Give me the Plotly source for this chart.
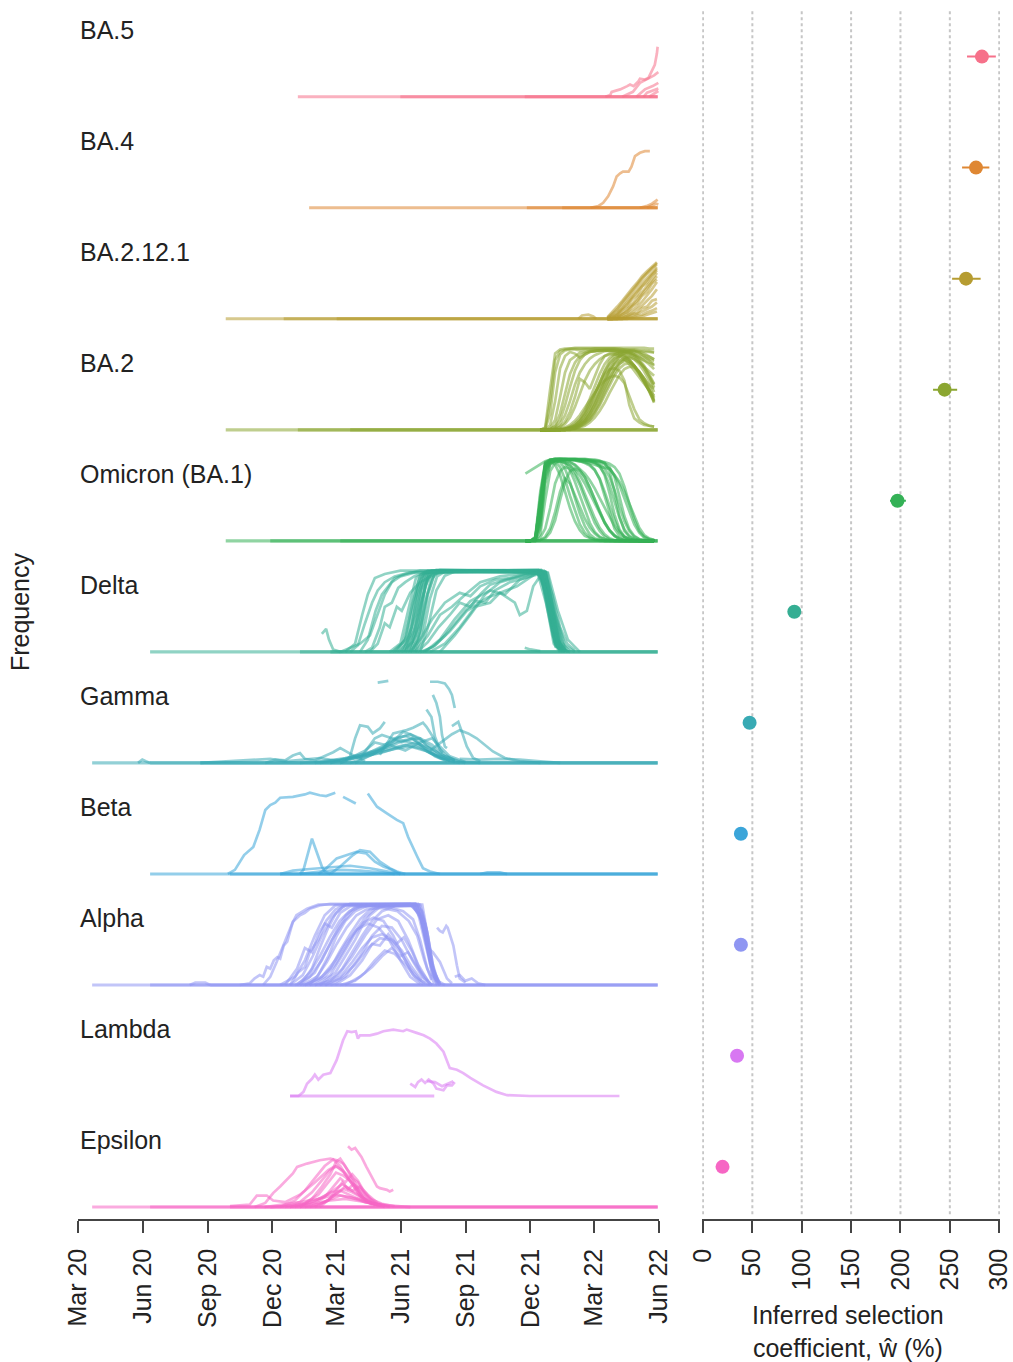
import pandas as pd
import plotly.graph_objects as go

# ---------------------------------------------------------------------------
# Data: variant frequency trajectories (one list per region) and inferred
# selection coefficients. Days are counted from 2020-03-01.
# ---------------------------------------------------------------------------
EPOCH = pd.Timestamp("2020-03-01")

VARIANTS = ["BA.5", "BA.4", "BA.2.12.1", "BA.2", "Omicron (BA.1)", "Delta",
            "Gamma", "Beta", "Alpha", "Lambda", "Epsilon"]
COLORS = ["#f6718a", "#df8733", "#b69c31", "#8ba631", "#34b156", "#35ae93",
          "#38aab4", "#3ba5d9", "#8f96f2", "#d878f2", "#f666c4"]

# inferred selection coefficient (%) with its interval
SELECTION = [282.5, 276.5, 266.4, 244.7, 197.0, 92.5, 47.2, 38.4, 38.4, 34.5, 19.8]
SEL_LOW = [267.4, 262.4, 252.3, 233.0, 189.4, 90.5, 45.8, 37.4, 37.4, 33.5, 18.8]
SEL_HIGH = [296.6, 290.0, 281.2, 257.4, 205.5, 94.5, 48.6, 39.4, 39.4, 35.5, 20.8]

DATE_TICKS = ["2020-03-01", "2020-06-01", "2020-09-01", "2020-12-01", "2021-03-01",
              "2021-06-01", "2021-09-01", "2021-12-01", "2022-03-01", "2022-06-01"]
DATE_LABELS = ["Mar 20", "Jun 20", "Sep 20", "Dec 20", "Mar 21",
               "Jun 21", "Sep 21", "Dec 21", "Mar 22", "Jun 22"]
SEL_TICKS = [0, 50, 100, 150, 200, 250, 300]

# periods during which a region reports zero frequency (first day, last day)
BA5_BASE = [(311, 820), (456, 820), (632, 820)]
BA4_BASE = [(327, 820), (635, 820), (685, 820)]
BA2121_BASE = [(209, 820), (291, 820), (366, 820)]
BA2_BASE = [(209, 820), (311, 820), (385, 820)]
OMICRON_BASE = [(209, 820), (272, 820), (371, 820)]
DELTA_BASE = [(102, 820), (314, 820), (357, 820)]
GAMMA_BASE = [(20, 820), (102, 820), (173, 820)]
BETA_BASE = [(102, 820), (215, 820), (286, 820)]
ALPHA_BASE = [(20, 820), (102, 820), (187, 820)]
LAMBDA_BASE = [(300, 504)]
EPSILON_BASE = [(20, 820), (102, 820), (215, 820)]

BA5_TRAJ = [
    [(746, 0), (753, .02), (755, .06), (767, .09), (777, .13), (781, .15), (786, .13), (793, .19),
     (795, .22), (802, .21), (807, .23), (811, .31), (816, .39), (819, .53), (820, .61)],
    [(770, 0), (785, .06), (795, .17), (809, .23), (815, .26), (821, .3)],
    [(790, 0), (802, .09), (813, .13), (821, .17)],
    [(800, 0), (805, .05), (821, .1)],
    [(808, 0), (815, .04), (821, .07)],
]

BA4_TRAJ = [
    [(725, 0), (736, .02), (743, .06), (750, .14), (757, .26), (762, .38), (767, .42), (771, .44),
     (779, .44), (783, .5), (788, .63), (795, .67), (802, .69), (809, .69)],
    [(795, 0), (804, .02), (812, .05), (816, .07), (820, .1)],
    [(805, 0), (812, .03), (818, .05), (821, .04)],
]

# weekly values from 2022-03-20
BA2121_WEEKS = list(range(749, 820, 7))
BA2121_FREQ = [
    [.02, .08, .15, .22, .3, .37, .44, .52, .58, .64, .69],
    [.01, .05, .1, .17, .25, .32, .4, .48, .55, .62, .68],
    [0, .03, .07, .13, .2, .28, .35, .43, .5, .57, .63],
    [0, .02, .05, .11, .15, .24, .29, .39, .44, .53, .59],
    [0, .01, .03, .07, .12, .18, .25, .32, .4, .48, .56],
    [0, 0, .02, .06, .08, .15, .19, .28, .33, .43, .48],
    [0, 0, .01, .03, .06, .1, .15, .21, .28, .36, .45],
    [0, 0, 0, .02, .04, .07, .11, .16, .22, .28, .36],
    [0, 0, 0, .01, .03, .06, .07, .13, .15, .22, .24],
    [0, 0, 0, 0, .02, .04, .06, .09, .12, .15, .2],
    [0, 0, 0, 0, .01, .02, .04, .05, .08, .1, .13],
    [0, 0, 0, 0, 0, .01, .02, .03, .05, .07, .09],
    [.01, .06, .12, .2, .27, .35, .42, .5, .56, .62, .66],
    [0, .02, .06, .12, .18, .26, .33, .41, .48, .55, .61],
    [0, 0, .02, .05, .1, .16, .22, .3, .37, .44, .52],
]
BA2121_EXTRA = [[(708, 0), (713, .04), (722, .05), (729, .03), (733, 0)]]

# weekly values from 2021-12-15
BA2_WEEKS = list(range(654, 816, 7))
BA2_FREQ = [
    [0, .03, .5, .93, .98, .99, .99, 1, 1, 1, 1, 1, 1, 1, 1, 1, 1, 1, 1, 1, 1, 1, .99, .99],
    [0, .01, .2, .7, .92, .97, .98, .98, .97, .98, .98, .99, .99, .99, .99, .99, .98, .98, .97, .97, .96, .95, .95, .94],
    [0, 0, .06, .35, .75, .9, .95, .93, .88, .92, .95, .96, .97, .97, .97, .96, .96, .95, .93, .9, .87, .85, .82, .8],
    [0, 0, .02, .12, .4, .7, .85, .9, .94, .95, .96, .96, .97, .97, .96, .96, .95, .95, .94, .92, .9, .88, .86, .84],
    [0, 0, .01, .05, .2, .45, .68, .82, .9, .94, .96, .97, .97, .98, .98, .98, .97, .97, .96, .95, .93, .91, .89, .86],
    [0, 0, 0, .02, .07, .18, .35, .55, .7, .8, .87, .91, .94, .96, .97, .97, .97, .96, .94, .92, .89, .85, .8, .74],
    [0, 0, 0, .01, .04, .1, .22, .4, .62, .58, .5, .65, .8, .9, .93, .94, .93, .9, .85, .78, .7, .62, .55, .5],
    [0, 0, 0, .01, .03, .07, .15, .28, .45, .6, .72, .8, .86, .9, .92, .92, .9, .86, .8, .72, .64, .56, .48, .42],
    [0, 0, 0, 0, .01, .02, .04, .08, .14, .24, .38, .54, .68, .8, .88, .92, .93, .91, .86, .78, .68, .58, .47, .38],
    [0, 0, 0, 0, 0, .01, .03, .06, .11, .19, .3, .44, .58, .71, .81, .87, .9, .89, .85, .78, .69, .59, .48, .36],
    [0, 0, 0, 0, 0, .01, .02, .04, .08, .14, .23, .35, .48, .61, .72, .8, .85, .86, .83, .77, .69, .59, .47, .34],
    [0, 0, 0, 0, 0, 0, .01, .03, .06, .1, .17, .27, .39, .52, .64, .74, .81, .84, .83, .78, .7, .6, .48, .33],
    [0, 0, 0, 0, 0, 0, .01, .02, .04, .07, .12, .2, .3, .42, .55, .66, .75, .8, .81, .78, .71, .62, .5, .35],
    [0, 0, 0, 0, 0, 0, 0, .01, .03, .05, .09, .15, .23, .33, .45, .57, .67, .74, .77, .76, .71, .63, .53, .4],
    [0, 0, 0, 0, 0, .01, .02, .04, .08, .14, .24, .37, .52, .66, .78, .87, .93, .96, .97, .96, .94, .9, .85, .78],
    [0, 0, 0, 0, 0, 0, .01, .03, .06, .11, .19, .3, .43, .57, .7, .81, .89, .94, .96, .96, .95, .93, .9, .86],
    [0, 0, 0, 0, 0, .01, .02, .05, .1, .18, .29, .43, .58, .72, .84, .91, .95, .96, .95, .92, .86, .78, .68, .56],
    [0, 0, 0, 0, 0, 0, .01, .02, .05, .09, .15, .24, .36, .5, .63, .74, .83, .88, .9, .88, .83, .75, .65, .52],
    [0, 0, 0, 0, .01, .03, .06, .11, .18, .27, .37, .46, .54, .6, .64, .66, .64, .57, .42, .25, .13, .08, .05, .04],
    [0, 0, 0, 0, 0, .01, .03, .06, .12, .21, .33, .46, .58, .68, .74, .75, .72, .6, .3, .14, .09, .06, .05, .04],
    [0, .02, .35, .85, .96, .98, .99, .99, .99, .99, .99, .99, .99, .99, .99, .99, .99, .98, .98, .98, .97, .97, .96, .95],
    [0, 0, .01, .04, .12, .3, .52, .72, .85, .92, .95, .96, .97, .97, .97, .96, .95, .93, .9, .86, .82, .77, .72, .66],
    [0, 0, 0, 0, 0, .01, .02, .04, .07, .12, .2, .31, .45, .6, .73, .83, .9, .93, .93, .9, .84, .76, .66, .55],
    [0, 0, 0, 0, 0, 0, .01, .02, .04, .08, .13, .21, .32, .45, .58, .7, .8, .86, .88, .86, .8, .71, .6, .46],
]

# weekly values from 2021-11-24
OMICRON_WEEKS = list(range(633, 816, 7))
OMICRON_FREQ = [
    [0, 0, .03, .5, .95, .99, 1, 1, 1, 1, 1, 1, 1, .99, .99, .98, .95, .85, .6, .3, .12, .05, .02, .01, 0, 0, 0],
    [0, 0, .02, .35, .9, .98, .99, 1, 1, 1, 1, .99, .99, .98, .96, .92, .8, .58, .32, .14, .05, .02, .01, 0, 0, 0, 0],
    [0, 0, .01, .25, .85, .97, .99, .99, .99, .99, .99, .99, .99, .99, .98, .97, .95, .9, .78, .55, .3, .14, .06, .02, .01, 0, 0],
    [0, 0, .05, .6, .96, .99, 1, 1, 1, .99, .99, .98, .96, .93, .87, .75, .55, .32, .15, .06, .02, .01, 0, 0, 0, 0, 0],
    [0, 0, .01, .15, .7, .93, .98, .99, .99, .99, .99, .99, .98, .98, .97, .96, .93, .88, .8, .68, .52, .35, .2, .1, .04, .02, .01],
    [0, 0, 0, .08, .5, .85, .95, .98, .99, .99, .99, .98, .98, .97, .95, .9, .82, .68, .48, .28, .14, .06, .02, .01, 0, 0, 0],
    [0, 0, .03, .45, .92, .98, .97, .9, .75, .55, .36, .2, .1, .04, .02, .01, 0, 0, 0, 0, 0, 0, 0, 0, 0, 0, 0],
    [0, 0, .02, .4, .9, .97, .98, .96, .88, .72, .52, .33, .18, .08, .03, .01, 0, 0, 0, 0, 0, 0, 0, 0, 0, 0, 0],
    [0, 0, .02, .3, .85, .96, .98, .98, .95, .86, .72, .55, .38, .22, .11, .05, .02, .01, 0, 0, 0, 0, 0, 0, 0, 0, 0],
    [0, 0, .01, .25, .8, .95, .97, .97, .96, .92, .84, .72, .57, .42, .28, .16, .08, .03, .01, 0, 0, 0, 0, 0, 0, 0, 0],
    [0, 0, .04, .5, .93, .97, .93, .8, .6, .4, .24, .13, .06, .03, .01, 0, 0, 0, 0, 0, 0, 0, 0, 0, 0, 0, 0],
    [0, 0, 0, .01, .05, .15, .35, .6, .76, .7, .55, .4, .27, .16, .09, .04, .02, 0, 0, 0, 0, 0, 0, 0, 0, 0, 0],
    [0, 0, 0, .01, .03, .1, .25, .5, .72, .85, .88, .85, .78, .65, .5, .35, .22, .12, .06, .02, 0, 0, 0, 0, 0, 0, 0],
    [0, 0, .01, .04, .15, .4, .7, .85, .9, .88, .8, .68, .52, .36, .22, .12, .05, .02, 0, 0, 0, 0, 0, 0, 0, 0, 0],
    [0, 0, .02, .3, .88, .97, .99, .99, .99, .98, .98, .97, .96, .95, .93, .91, .89, .88, .8, .72, .6, .45, .3, .16, .07, .03, .01],
    [.82, .86, .9, .94, .97, .99, .99, .99, .98, .96, .93, .88, .82, .74, .64, .52, .4, .28, .18, .1, .05, .02, .01, 0, 0, 0, 0],
    [0, 0, .02, .4, .92, .98, .99, .99, .99, .99, .98, .97, .95, .92, .86, .76, .6, .42, .25, .12, .05, .02, .01, 0, 0, 0, 0],
    [0, 0, .03, .55, .95, .99, 1, 1, .99, .99, .99, .98, .98, .97, .96, .93, .88, .78, .62, .42, .24, .12, .05, .02, .01, 0, 0],
    [0, 0, .01, .2, .75, .94, .98, .99, .99, .99, .99, .99, .99, .98, .98, .97, .96, .94, .9, .82, .66, .45, .26, .12, .05, .02, .01],
    [0, 0, .02, .35, .88, .97, .98, .97, .95, .92, .87, .8, .7, .58, .45, .33, .22, .13, .07, .03, .01, 0, 0, 0, 0, 0, 0],
    [0, 0, .04, .48, .93, .98, .99, .99, .98, .96, .92, .86, .77, .65, .5, .36, .23, .13, .06, .02, .01, 0, 0, 0, 0, 0, 0],
]

DELTA_TRAJ = [
    [(448, 0), (463, .15), (473, .6), (484, .93), (495, .99), (651, 1), (661, .8), (671, .3), (679, .05), (689, 0)],
    [(456, 0), (470, .2), (481, .7), (491, .95), (501, .99), (654, .99), (665, .7), (675, .2), (685, .03), (696, 0)],
    [(463, 0), (475, .25), (485, .75), (495, .96), (507, 1), (656, .99), (668, .6), (678, .15), (689, .02)],
    [(467, 0), (481, .3), (491, .8), (501, .97), (512, 1), (661, .98), (672, .5), (682, .1), (693, 0)],
    [(473, 0), (484, .25), (494, .7), (504, .95), (515, .99), (648, .99), (659, .85), (668, .4), (676, .08), (686, 0)],
    [(453, 0), (465, .1), (477, .45), (487, .85), (498, .98), (649, .98), (662, .75), (672, .25), (682, .04)],
    [(458, 0), (473, .12), (484, .55), (495, .9), (507, .98), (658, .97), (669, .55), (679, .12), (690, 0)],
    [(477, 0), (488, .2), (498, .65), (508, .92), (519, .98), (664, .97), (676, .45), (689, .08), (703, 0)],
    [(441, 0), (456, .1), (467, .5), (478, .9), (491, .98), (647, .99), (656, .9), (665, .5), (673, .1), (682, 0)],
    [(470, 0), (484, .35), (492, .85), (502, .98), (655, 1), (666, .65), (676, .18), (685, .02)],
    [(484, 0), (495, .3), (507, .75), (519, .93), (533, .98), (665, .96), (679, .5), (693, .15), (710, 0)],
    [(463, 0), (477, .3), (488, .8), (498, .97), (659, .99), (671, .7), (682, .3), (692, .1), (703, .02)],
    [(460, 0), (472, .3), (480, .75), (489, .95), (500, .99), (652, .99), (662, .75), (671, .28), (681, .03)],
    [(466, 0), (478, .2), (487, .65), (496, .93), (506, .99), (657, .98), (667, .6), (676, .2), (686, .02)],
    [(451, 0), (466, .2), (476, .6), (486, .9), (497, .98), (650, .99), (660, .82), (669, .4), (678, .08), (688, 0)],
    [(470, 0), (481, .15), (490, .55), (499, .88), (510, .98), (660, .98), (670, .55), (679, .15), (690, .01)],
    [(445, 0), (460, .12), (471, .5), (482, .88), (494, .98), (653, .99), (663, .7), (673, .22), (683, .03)],
    [(475, 0), (486, .25), (495, .7), (504, .94), (515, .99), (662, .97), (673, .5), (684, .12), (696, 0)],
    [(378, 0), (392, .1), (402, .45), (410, .7), (420, .9), (434, .95), (456, .99), (654, .99), (665, .6),
     (675, .1), (685, 0)],
    [(385, 0), (396, .08), (406, .35), (416, .6), (424, .75), (434, .85), (448, .92), (470, .97), (654, .98),
     (665, .5), (676, .05)],
    [(399, 0), (410, .15), (421, .5), (430, .7), (439, .8), (448, .9), (463, .95), (484, .99), (651, .98),
     (662, .7), (672, .2), (682, 0)],
    [(406, 0), (416, .05), (427, .3), (434, .55), (444, .6), (453, .78), (463, .85), (477, .93), (498, .98),
     (661, .98), (675, .4), (685, .05)],
    [(413, 0), (424, .1), (434, .35), (441, .3), (451, .55), (458, .5), (470, .72), (484, .85), (505, .95),
     (526, .98), (654, .98), (665, .6), (676, .1)],
    [(371, 0), (385, .05), (399, .1), (413, .2), (424, .45), (434, .7), (444, .85), (456, .92), (477, .97),
     (654, .98), (666, .5), (678, .05)],
    [(484, 0), (502, .06), (526, .25), (550, .5), (579, .66), (621, .8), (647, .95), (661, .97), (672, .5),
     (682, .08), (693, 0)],
    [(491, 0), (512, .15), (533, .4), (555, .62), (583, .75), (604, .7), (625, .88), (654, .97), (668, .6), (679, .1)],
    [(477, 0), (495, .2), (512, .45), (529, .55), (548, .7), (569, .85), (597, .92), (625, .95), (656, .97),
     (669, .55), (682, .05)],
    [(498, 0), (519, .1), (540, .3), (562, .55), (583, .6), (597, .72), (618, .6), (625, .45), (635, .5),
     (644, .8), (656, .95), (668, .5), (679, .05)],
    [(512, 0), (533, .2), (555, .45), (576, .7), (597, .85), (618, .9), (639, .95), (661, .96), (672, .5), (682, .05)],
    [(470, 0), (484, .15), (501, .4), (519, .6), (540, .72), (555, .68), (569, .8), (590, .88), (611, .9),
     (632, .95), (661, .97), (675, .45), (689, .03)],
    [(480, 0), (495, .12), (510, .3), (526, .45), (540, .6), (555, .55), (569, .7), (583, .82), (604, .88),
     (625, .92), (650, .97), (662, .6), (674, .12), (684, 0)],
    [(488, 0), (505, .08), (519, .2), (533, .35), (548, .5), (562, .62), (576, .6), (590, .75), (611, .85),
     (632, .9), (656, .96), (668, .5), (680, .05)],
    [(345, .22), (351, .28), (355, .15), (361, .03), (371, 0)],
    [(632, .05), (640, .03), (654, .01)],
]

GAMMA_TRAJ = [
    [(424, .98), (431, .99), (439, 1)],
    [(498, .99), (509, .99), (519, .97), (525, .9), (529, .83), (533, .67)],
    [(502, .83), (507, .73), (512, .56), (515, .34), (519, .2), (522, .18)],
    [(493, .65), (500, .56), (505, .32), (512, .16), (516, .12)],
    [(529, .45), (538, .5), (543, .38), (550, .2), (559, .06), (569, .02)],
    [(498, .15), (519, .28), (529, .35), (540, .4), (552, .36), (564, .3), (576, .22), (587, .14), (604, .06),
     (625, .02), (654, 0)],
    [(378, .02), (385, .08), (392, .3), (399, .46), (410, .44), (417, .36), (427, .42), (434, .5)],
    [(427, .1), (446, .36), (465, .4), (474, .43), (488, .49), (493, .44), (502, .32), (509, .2), (519, .1), (533, .03)],
    [(342, 0), (385, .05), (427, .12), (456, .2), (477, .25), (498, .18), (519, .08), (540, .02), (569, 0)],
    [(357, 0), (399, .08), (434, .18), (463, .28), (484, .3), (501, .22), (515, .1), (533, .03)],
    [(314, 0), (371, .04), (413, .1), (448, .17), (470, .2), (491, .15), (512, .06), (540, 0)],
    [(371, 0), (406, .15), (420, .25), (434, .22), (453, .3), (470, .35), (484, .28), (498, .2), (512, .1), (526, .02)],
    [(385, 0), (416, .1), (441, .22), (463, .15), (484, .25), (501, .3), (512, .2), (526, .08), (548, .01)],
    [(399, .05), (420, .3), (430, .34), (444, .3), (458, .25), (473, .3), (484, .22), (501, .12), (519, .04)],
    [(265, 0), (279, .04), (293, .03), (304, .09), (314, .12), (321, .05), (335, .03), (361, .13), (371, .18),
     (381, .13), (392, .08), (406, .02)],
    [(173, 0), (215, .02), (243, .03), (272, .05), (293, .02), (314, .04), (342, .06), (371, .02)],
    [(85, 0), (91, .04), (96, .02), (102, 0)],
    [(540, .05), (569, .04), (597, .05), (625, .04), (654, .02), (682, 0)],
    [(357, 0), (392, .08), (420, .15), (441, .22), (456, .28), (470, .25), (484, .2), (498, .12), (515, .05), (533, .01)],
    [(371, 0), (406, .1), (430, .2), (448, .3), (463, .33), (477, .28), (491, .18), (505, .08), (522, .02)],
    [(335, 0), (378, .06), (413, .12), (441, .18), (463, .22), (484, .18), (505, .1), (526, .04), (548, 0)],
    [(392, 0), (420, .12), (444, .25), (460, .38), (470, .35), (484, .3), (494, .2), (508, .1), (526, .03)],
]

BETA_TRAJ = [
    [(212, 0), (222, .05), (235, .23), (248, .33), (257, .54), (265, .78), (272, .84), (279, .87), (286, .93),
     (304, .94), (321, .97), (328, .99), (342, .96), (351, .95), (364, .99), (370, None), (375, .94), (385, .9),
     (393, .86), (400, None), (410, .98), (416, .9), (423, .82), (437, .74), (451, .66), (460, .62), (467, .45),
     (480, .21), (488, .07), (498, .03), (512, 0)],
    [(314, 0), (319, .05), (331, .43), (338, .25), (345, .09), (349, .03), (357, 0)],
    [(340, 0), (349, .05), (366, .19), (385, .25), (394, .27), (408, .25), (420, .15), (432, .09), (444, .05), (456, 0)],
    [(357, 0), (371, .09), (389, .23), (399, .29), (413, .27), (427, .15), (441, .07), (451, .03), (463, 0)],
    [(286, 0), (304, .04), (328, .06), (357, .08), (385, .1), (413, .07), (441, .03), (456, 0)],
    [(314, 0), (342, .03), (371, .05), (399, .04), (427, .02), (448, 0)],
    [(569, 0), (579, .02), (597, .02), (607, 0)],
]

ALPHA_TRAJ = [
    [(229, 0), (243, .02), (250, .08), (257, .12), (262, .1), (267, .22), (272, .2), (277, .3), (282, .34),
     (286, .32), (291, .48), (296, .53), (300, .65), (304, .77), (314, .85), (321, .88), (328, .93), (342, .97),
     (357, .99), (477, .99), (487, .9), (495, .6), (502, .25), (509, .05), (519, 0)],
    [(262, 0), (272, .1), (281, .28), (289, .45), (295, .6), (303, .75), (309, .85), (324, .93), (340, .98),
     (470, .99), (484, .85), (494, .45), (501, .12), (509, 0)],
    [(286, 0), (307, .1), (321, .3), (335, .6), (349, .85), (364, .97), (477, .99), (488, .8), (498, .35), (507, .05)],
    [(300, 0), (318, .12), (332, .35), (345, .6), (359, .82), (374, .95), (385, .99), (481, .99), (491, .75),
     (499, .3), (508, .05)],
    [(307, 0), (328, .1), (345, .3), (359, .55), (374, .75), (388, .9), (402, .97), (473, .98), (484, .85),
     (495, .45), (504, .1), (512, 0)],
    [(314, 0), (335, .15), (347, .35), (357, .5), (368, .7), (379, .85), (392, .95), (484, .98), (494, .65),
     (502, .2), (512, .02)],
    [(321, 0), (342, .08), (357, .2), (371, .42), (385, .62), (399, .8), (413, .92), (427, .97), (474, .97),
     (485, .8), (495, .4), (505, .07)],
    [(328, 0), (349, .1), (364, .25), (378, .45), (392, .65), (406, .82), (420, .93), (434, .97), (478, .98),
     (490, .7), (499, .25), (509, .03)],
    [(335, 0), (357, .05), (374, .2), (388, .4), (402, .6), (416, .78), (430, .9), (448, .96), (480, .96),
     (491, .6), (501, .2), (512, 0)],
    [(293, 0), (310, .2), (321, .45), (331, .4), (340, .62), (349, .75), (359, .7), (371, .88), (385, .96),
     (470, .98), (481, .88), (492, .5), (502, .12), (512, 0)],
    [(349, 0), (371, .08), (392, .25), (410, .45), (427, .57), (441, .55), (456, .4), (470, .2), (484, .06), (498, 0)],
    [(357, 0), (378, .1), (399, .35), (416, .6), (430, .72), (444, .7), (458, .55), (473, .3), (487, .1), (501, 0)],
    [(342, 0), (368, .12), (388, .35), (406, .6), (423, .8), (439, .85), (453, .78), (467, .55), (481, .25), (495, .05)],
    [(371, 0), (392, .05), (406, .15), (420, .3), (434, .42), (448, .38), (463, .25), (477, .1), (491, .02)],
    [(364, 0), (385, .12), (402, .3), (416, .5), (427, .48), (439, .62), (450, .5), (461, .58), (473, .4),
     (484, .18), (498, .02)],
    [(378, 0), (399, .1), (416, .22), (430, .35), (444, .45), (456, .35), (467, .4), (478, .25), (490, .08), (501, 0)],
    [(508, .7), (512, .66), (516, .64), (521, .72), (523, .7), (528, .56), (531, .48), (536, .24), (540, .08), (548, .03)],
    [(495, .45), (502, .4), (512, .28), (522, .08), (529, .02)],
    [(533, .1), (540, .12), (548, .05), (557, .08), (566, .02), (576, 0)],
    [(158, 0), (166, .03), (180, .03), (187, 0)],
    [(314, 0), (331, .2), (342, .45), (354, .7), (365, .88), (378, .97), (487, .98), (495, .6), (504, .15), (513, 0)],
    [(327, 0), (340, .12), (354, .35), (366, .6), (378, .78), (392, .9), (410, .97), (482, .98), (492, .7),
     (501, .25), (510, .02)],
    [(342, 0), (364, .15), (378, .35), (392, .55), (402, .72), (413, .85), (427, .95), (475, .97), (487, .78),
     (497, .35), (507, .04)],
    [(300, 0), (311, .15), (321, .22), (328, .4), (340, .55), (351, .78), (364, .92), (378, .98), (478, .99),
     (490, .7), (498, .3), (508, 0)],
    [(321, 0), (345, .1), (364, .3), (380, .52), (395, .68), (410, .75), (425, .7), (440, .55), (456, .3),
     (470, .1), (484, .01)],
    [(335, 0), (357, .12), (375, .38), (390, .6), (404, .76), (418, .82), (432, .78), (446, .6), (460, .35),
     (474, .12), (488, .01)],
    [(350, 0), (371, .1), (388, .28), (402, .45), (416, .58), (430, .62), (444, .55), (458, .42), (472, .22), (486, .06)],
    [(310, 0), (328, .15), (342, .35), (356, .58), (370, .78), (384, .9), (398, .96), (420, .97), (440, .95),
     (460, .9), (474, .8), (484, .55), (494, .2), (504, .02)],
    [(318, 0), (338, .1), (352, .28), (366, .5), (380, .7), (394, .85), (408, .92), (430, .94), (452, .9),
     (468, .78), (480, .6), (490, .3), (500, .06)],
]

LAMBDA_TRAJ = [
    [(300, 0), (312, 0), (319, .05), (324, .15), (331, .21), (335, .26), (340, .2), (347, .26), (357, .28),
     (366, .44), (375, .68), (381, .79), (387, .78), (393, .79), (396, .7), (399, .74), (413, .74), (423, .76),
     (432, .79), (446, .81), (460, .79), (465, .81), (479, .77), (489, .74), (498, .7), (507, .64), (517, .54),
     (526, .34), (536, .32), (545, .28), (555, .22), (573, .13), (592, .05), (607, .01), (639, 0), (766, 0)],
    [(470, .15), (477, .11), (481, .17), (486, .2), (491, .16), (496, .2), (503, .15), (507, .09), (517, .07),
     (522, .13), (529, .13), (533, .17)],
    [(494, .18), (505, .17), (515, .12), (525, .16), (531, .18)],
]

EPSILON_TRAJ = [
    [(382, .74), (387, .7), (392, .72), (397, .65), (401, .61), (408, .49), (418, .33), (423, .25), (427, .23),
     (437, .21), (441, .19), (446, .21)],
    [(250, 0), (265, .05), (276, .17), (286, .25), (304, .41), (310, .49), (324, .53), (342, .57), (357, .59),
     (366, .57), (375, .53), (385, .41), (395, .25), (403, .12), (417, .04), (434, 0)],
    [(215, .01), (243, .03), (253, .14), (267, .14), (276, .08), (293, .06), (314, .15), (335, .3), (354, .45),
     (364, .5), (374, .45), (385, .35), (396, .2), (407, .08), (420, .02)],
    [(286, 0), (307, .08), (321, .2), (335, .35), (349, .5), (361, .58), (371, .5), (382, .35), (392, .22),
     (402, .1), (416, .03)],
    [(300, 0), (321, .05), (340, .15), (354, .3), (365, .42), (376, .38), (388, .3), (399, .18), (410, .08), (424, .02)],
    [(314, 0), (335, .05), (349, .12), (361, .25), (371, .35), (378, .3), (388, .4), (396, .32), (404, .2),
     (416, .08), (427, .02)],
    [(307, 0), (328, .05), (345, .12), (359, .18), (371, .2), (382, .16), (393, .12), (407, .06), (427, .02)],
    [(321, 0), (342, .04), (359, .1), (371, .14), (382, .12), (396, .1), (413, .05), (441, .01)],
    [(272, 0), (300, .02), (328, .04), (357, .08), (378, .1), (399, .07), (427, .03), (470, 0)],
    [(335, 0), (354, .08), (365, .2), (374, .3), (382, .22), (390, .28), (402, .2), (413, .1), (430, .04), (448, .01)],
    [(342, 0), (364, .15), (378, .25), (388, .2), (399, .25), (410, .15), (424, .05), (441, 0)],
    [(293, 0), (314, .06), (331, .18), (345, .32), (357, .45), (366, .5), (376, .42), (388, .28), (399, .14), (413, .05)],
    [(314, 0), (331, .1), (345, .25), (357, .4), (365, .55), (371, .59), (378, .5), (388, .35), (396, .3),
     (406, .15), (420, .04)],
    [(300, 0), (321, .04), (342, .1), (361, .2), (374, .28), (385, .22), (396, .15), (410, .07), (427, .02)],
    [(328, 0), (349, .06), (364, .15), (376, .22), (388, .18), (402, .12), (416, .05), (434, .01)],
    [(264, 0), (290, .03), (314, .06), (340, .1), (364, .15), (385, .12), (406, .06), (430, .02)],
]

# gridded trajectories expressed as (day, frequency) pairs
BA2121_TRAJ = [list(zip(BA2121_WEEKS, f)) for f in BA2121_FREQ] + BA2121_EXTRA
BA2_TRAJ = [list(zip(BA2_WEEKS, f)) for f in BA2_FREQ]
OMICRON_TRAJ = [list(zip(OMICRON_WEEKS, f)) for f in OMICRON_FREQ]

BASELINES = [BA5_BASE, BA4_BASE, BA2121_BASE, BA2_BASE, OMICRON_BASE, DELTA_BASE,
             GAMMA_BASE, BETA_BASE, ALPHA_BASE, LAMBDA_BASE, EPSILON_BASE]
TRAJECTORIES = [BA5_TRAJ, BA4_TRAJ, BA2121_TRAJ, BA2_TRAJ, OMICRON_TRAJ, DELTA_TRAJ,
                GAMMA_TRAJ, BETA_TRAJ, ALPHA_TRAJ, LAMBDA_TRAJ, EPSILON_TRAJ]

# ---------------------------------------------------------------------------
# Layout constants
# ---------------------------------------------------------------------------
ROW_PITCH = 1.354          # vertical distance between stacked rows (frequency units)
FONT = "Liberation Sans, Arial, Helvetica, sans-serif"
TEXT_COLOR = "#222222"
AXIS_COLOR = "#444444"
GRID_COLOR = "#c6c6c6"
LINE_ALPHA = 0.55
LINE_WIDTH = 2.7


def rgba(hex_color, alpha):
    h = hex_color.lstrip("#")
    r, g, b = int(h[0:2], 16), int(h[2:4], 16), int(h[4:6], 16)
    return f"rgba({r},{g},{b},{alpha})"


def to_dates(days):
    return [EPOCH + pd.Timedelta(days=d) for d in days]


n = len(VARIANTS)
offsets = [(n - 1 - i) * ROW_PITCH for i in range(n)]

fig = go.Figure()

for i, name in enumerate(VARIANTS):
    off = offsets[i]
    col = rgba(COLORS[i], LINE_ALPHA)
    for start, end in BASELINES[i]:
        fig.add_trace(go.Scatter(
            x=to_dates([start, end]), y=[off, off], mode="lines",
            line=dict(color=col, width=LINE_WIDTH + 0.4), hoverinfo="skip", showlegend=False,
            xaxis="x", yaxis="y"))
    for traj in TRAJECTORIES[i]:
        days = [p[0] for p in traj]
        ys = [None if p[1] is None else off + p[1] for p in traj]
        fig.add_trace(go.Scatter(
            x=to_dates(days), y=ys, mode="lines", connectgaps=False,
            line=dict(color=col, width=LINE_WIDTH), hoverinfo="skip", showlegend=False,
            xaxis="x", yaxis="y"))

# selection coefficients on the right
for i, name in enumerate(VARIANTS):
    fig.add_trace(go.Scatter(
        x=[SELECTION[i]], y=[offsets[i] + 0.49], mode="markers",
        marker=dict(size=14, color=COLORS[i], line=dict(width=0)),
        error_x=dict(type="data", symmetric=False,
                     array=[SEL_HIGH[i] - SELECTION[i]],
                     arrayminus=[SELECTION[i] - SEL_LOW[i]],
                     color=COLORS[i], thickness=2, width=0),
        name=name, showlegend=False, xaxis="x2", yaxis="y2"))

# dotted vertical guides for the selection axis
shapes = [dict(type="line", xref="x2", yref="paper", x0=v, x1=v, y0=0.004, y1=1,
               line=dict(color=GRID_COLOR, width=2, dash="dot"), layer="below")
          for v in SEL_TICKS]

# variant names
annotations = []
for i, name in enumerate(VARIANTS):
    annotations.append(dict(
        x=0, xref="paper", xanchor="left", y=offsets[i] + 0.817, yref="y", yanchor="middle",
        text=name, showarrow=False, font=dict(family=FONT, size=25, color=TEXT_COLOR)))

annotations.append(dict(
    x=-0.0629, xref="paper", y=0.502, yref="paper", text="Frequency", textangle=-90,
    showarrow=False, xanchor="center", yanchor="middle",
    font=dict(family=FONT, size=25, color=TEXT_COLOR)))

annotations.append(dict(
    x=0.8351, xref="paper", y=-0.066, yref="paper", xanchor="center", yanchor="top",
    text="Inferred selection<br>coefficient, ŵ (%)", showarrow=False, align="center",
    font=dict(family=FONT, size=25, color=TEXT_COLOR)))

y_range = [-0.146, 14.598]

fig.update_layout(
    width=1013, height=1362, autosize=False,
    margin=dict(l=78, r=0, t=10, b=143),
    paper_bgcolor="white", plot_bgcolor="white",
    font=dict(family=FONT, size=25, color=TEXT_COLOR),
    showlegend=False,
    annotations=annotations,
    shapes=shapes,
    xaxis=dict(
        domain=[0, 0.6302], type="date",
        range=["2020-03-01", "2022-06-01"],
        tickmode="array", tickvals=DATE_TICKS, ticktext=DATE_LABELS,
        tickangle=-90, ticks="outside", ticklen=12, tickwidth=1.5, tickcolor=AXIS_COLOR,
        showline=True, linecolor=AXIS_COLOR, linewidth=1.5,
        showgrid=False, zeroline=False, ticklabelstandoff=6,
        tickfont=dict(family=FONT, size=25, color=TEXT_COLOR), anchor="y"),
    yaxis=dict(domain=[0, 1], range=y_range, visible=False, anchor="x"),
    xaxis2=dict(
        domain=[0.677, 1.0], range=[-0.8, 300.8],
        tickmode="array", tickvals=SEL_TICKS, ticktext=[str(v) for v in SEL_TICKS],
        tickangle=-90, ticks="outside", ticklen=12, tickwidth=1.5, tickcolor=AXIS_COLOR,
        showline=True, linecolor=AXIS_COLOR, linewidth=1.5,
        showgrid=False, zeroline=False, ticklabelstandoff=6,
        tickfont=dict(family=FONT, size=25, color=TEXT_COLOR), anchor="y2"),
    yaxis2=dict(domain=[0, 1], range=y_range, visible=False, anchor="x2"),
)

fig.write_html("out.html")
